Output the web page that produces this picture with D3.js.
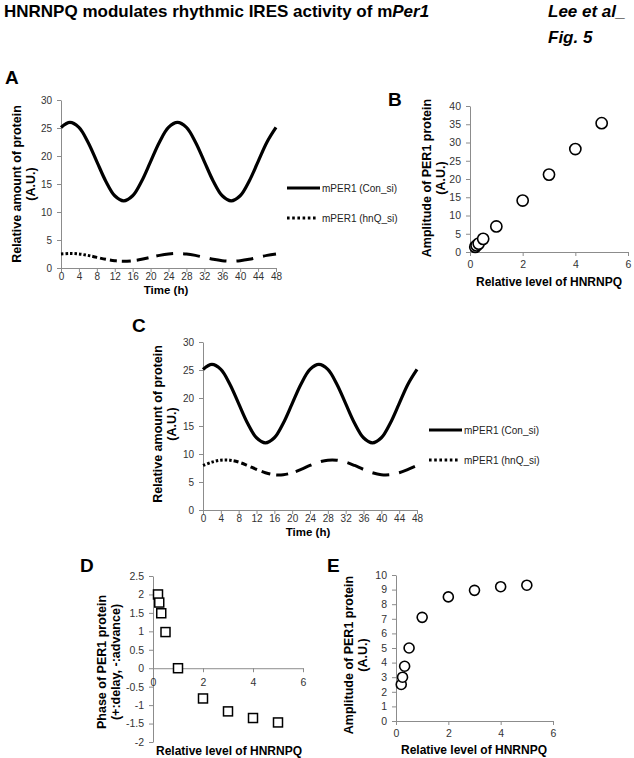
<!DOCTYPE html>
<html>
<head>
<meta charset="utf-8">
<script src="https://cdn.jsdelivr.net/npm/d3@7"></script>
<style>
  html, body { margin: 0; padding: 0; background: #fff; }
  svg { display: block; }
</style>
</head>
<body>
<div id="fig"></div>
<script>
// ---- data ----
const hours = [0, 2, 4, 6, 8, 10, 12, 14, 16, 18, 20, 22, 24, 26, 28, 30, 32, 34, 36, 38, 40, 42, 44, 46, 48];
const timeTicks = [0, 4, 8, 12, 16, 20, 24, 28, 32, 36, 40, 44, 48];
const proteinTicks = [0, 5, 10, 15, 20, 25, 30];

// mPER1 (Con_si), same curve in A and C
const conSi = [25.1, 26, 25.1, 22.5, 19, 15.5, 12.9, 12, 12.9, 15.5, 19, 22.5, 25.1,
               26, 25.1, 22.5, 19, 15.5, 12.9, 12, 12.9, 15.5, 19, 22.5, 25.1];
// mPER1 (hnQ_si), panel A
const hnqSiA = [2.5, 2.6, 2.5, 2.25, 1.9, 1.55, 1.3, 1.2, 1.3, 1.55, 1.9, 2.25, 2.5,
                2.6, 2.5, 2.25, 1.9, 1.55, 1.3, 1.2, 1.3, 1.55, 1.9, 2.25, 2.5];
// mPER1 (hnQ_si), panel C
const hnqSiC = [7.95, 8.55, 8.9, 8.9, 8.55, 7.95, 7.25, 6.65, 6.3, 6.3, 6.65, 7.25, 7.95,
                8.55, 8.9, 8.9, 8.55, 7.95, 7.25, 6.65, 6.3, 6.3, 6.65, 7.25, 7.95];

const legendNames = ['mPER1 (Con_si)', 'mPER1 (hnQ_si)'];

// panels B, D, E share the HNRNPQ levels
const hnrnpqLevel = [0.2, 0.25, 0.33, 0.5, 1, 2, 3, 4, 5];
const amplitudeB = [1.4, 1.8, 2.3, 3.6, 7, 14.1, 21.2, 28.2, 35.3];
const phaseD = [2, 1.78, 1.49, 0.98, 0, -0.82, -1.17, -1.35, -1.47];
const amplitudeE = [2.5, 3.0, 3.75, 5.0, 7.1, 8.5, 8.95, 9.2, 9.3];

const levelTicks = [0, 2, 4, 6];
const ampTicksB = [0, 5, 10, 15, 20, 25, 30, 35, 40];
const phaseTicks = [-2, -1.5, -1, -0.5, 0, 0.5, 1, 1.5, 2, 2.5];
const ampTicksE = [0, 1, 2, 3, 4, 5, 6, 7, 8, 9, 10];

// ---- drawing ----
const FONT = "'Liberation Sans', Arial, Helvetica, sans-serif";
const AXIS = '#8c8c8c';
const W = 634, H = 758;

const svg = d3.select('#fig').append('svg')
  .attr('width', W).attr('height', H)
  .attr('viewBox', `0 0 ${W} ${H}`)
  .style('font-family', FONT);

svg.append('rect').attr('width', W).attr('height', H).attr('fill', '#fff');

// title block
const title = svg.append('text')
  .attr('x', 4).attr('y', 17)
  .style('font-size', '17px').style('font-weight', 'bold');
title.append('tspan').text('HNRNPQ modulates rhythmic IRES activity of m');
title.append('tspan').style('font-style', 'italic').text('Per1');

svg.append('text').attr('x', 548).attr('y', 17)
  .style('font-size', '17px').style('font-weight', 'bold').style('font-style', 'italic')
  .text('Lee et al_');
svg.append('text').attr('x', 548).attr('y', 43)
  .style('font-size', '17px').style('font-weight', 'bold').style('font-style', 'italic')
  .text('Fig. 5');

function letter(t, x, y) {
  svg.append('text').attr('x', x).attr('y', y)
    .style('font-size', '19px').style('font-weight', 'bold')
    .text(t);
}

// one set of axes with titles; returns the scales
function frame(p) {
  const x = d3.scaleLinear().domain(p.xDomain).range([p.left, p.right]);
  const y = d3.scaleLinear().domain(p.yDomain).range([p.bottom, p.top]);
  const xAt = p.xAxisAt == null ? p.yDomain[0] : p.xAxisAt;

  const gy = svg.append('g')
    .attr('transform', `translate(${p.left},0)`)
    .call(d3.axisLeft(y).tickValues(p.yTicks).tickSize(4).tickSizeOuter(0)
      .tickPadding(5).tickFormat(d => String(d)));

  const gx = svg.append('g')
    .attr('transform', `translate(0,${y(xAt)})`)
    .call(d3.axisBottom(x).tickValues(p.xTicks).tickSize(4).tickSizeOuter(0)
      .tickPadding(p.padX).tickFormat(d => String(d)));

  [gx, gy].forEach(g => {
    g.attr('font-family', FONT).attr('font-size', p.tickFont || 10.5);
    g.select('.domain').attr('stroke', AXIS);
    g.selectAll('.tick line').attr('stroke', AXIS);
    g.selectAll('.tick text').attr('fill', '#333');
  });

  // x title
  svg.append('text')
    .attr('x', p.xTitleX).attr('y', p.xTitleY)
    .attr('text-anchor', 'middle')
    .style('font-size', p.xTitleSize || '12px').style('font-weight', 'bold')
    .text(p.xTitle);

  // y title, two rotated lines
  p.yTitle.forEach((t, i) => {
    svg.append('text')
      .attr('transform', `translate(${p.yTitleX + i * 14},${p.yTitleY}) rotate(-90)`)
      .attr('text-anchor', 'middle')
      .attr('dominant-baseline', 'central')
      .style('font-size', '12.5px').style('font-weight', 'bold')
      .text(t);
  });

  return { x, y };
}

// dotted start that stretches into long dashes, like the Excel line
function hnqDash() {
  const a = [];
  for (let i = 0; i < 7; i++) a.push(2.5, 2);
  a.push(5, 3, 6, 4, 7, 5, 9, 6, 12, 8);
  for (let i = 0; i < 12; i++) a.push(17, 10);
  return a.join(',');
}

function timePanel(p, hnq) {
  const { x, y } = frame(Object.assign({
    xDomain: [0, 48], yDomain: [0, 30],
    xTicks: timeTicks, yTicks: proteinTicks, padX: 1, tickFont: 10,
    xTitle: 'Time (h)', xTitleSize: '11.5px',
    yTitle: ['Relative amount of protein', '(A.U.)']
  }, p));

  const line = d3.line()
    .x((d, i) => x(hours[i]))
    .y(d => y(d))
    .curve(d3.curveCatmullRom);

  svg.append('path').datum(conSi)
    .attr('d', line).attr('fill', 'none')
    .attr('stroke', '#000').attr('stroke-width', 3.2);

  svg.append('path').datum(hnq)
    .attr('d', line).attr('fill', 'none')
    .attr('stroke', '#000').attr('stroke-width', 3)
    .attr('stroke-dasharray', hnqDash());

  // legend
  const lx = p.left + 226;
  const rows = [p.bottom - 80, p.bottom - 50];
  svg.append('line').attr('x1', lx).attr('x2', lx + 33)
    .attr('y1', rows[0]).attr('y2', rows[0])
    .attr('stroke', '#000').attr('stroke-width', 3.2);
  svg.append('line').attr('x1', lx).attr('x2', lx + 31)
    .attr('y1', rows[1]).attr('y2', rows[1])
    .attr('stroke', '#000').attr('stroke-width', 3)
    .attr('stroke-dasharray', '2.6,2.6');
  legendNames.forEach((n, i) => {
    svg.append('text')
      .attr('x', lx + 35).attr('y', rows[i] + 3.5)
      .style('font-size', '10px').style('fill', '#222')
      .text(n);
  });
}

// A
letter('A', 5, 84);
timePanel({ left: 61, right: 276, top: 100, bottom: 268,
  xTitleX: 166, xTitleY: 294, yTitleX: 17, yTitleY: 184 }, hnqSiA);

// C
letter('C', 132, 332);
timePanel({ left: 203, right: 417, top: 342, bottom: 510,
  xTitleX: 308, xTitleY: 536, yTitleX: 158, yTitleY: 424 }, hnqSiC);

// B
letter('B', 388, 106);
(function () {
  const { x, y } = frame({
    left: 470, right: 628, top: 106, bottom: 252,
    xDomain: [0, 6], yDomain: [0, 40],
    xTicks: levelTicks, yTicks: ampTicksB, padX: 5,
    xTitle: 'Relative level of HNRNPQ', xTitleX: 549, xTitleY: 286,
    yTitle: ['Amplitude of PER1 protein', '(A.U.)'], yTitleX: 427, yTitleY: 178
  });
  svg.append('g').selectAll('circle')
    .data(hnrnpqLevel)
    .enter().append('circle')
    .attr('cx', d => x(d))
    .attr('cy', (d, i) => y(amplitudeB[i]))
    .attr('r', 5.6)
    .attr('fill', '#fff').attr('stroke', '#000').attr('stroke-width', 1.6);
})();

// D
letter('D', 80, 572);
(function () {
  const { x, y } = frame({
    left: 153, right: 303, top: 576, bottom: 742,
    xDomain: [0, 6], yDomain: [-2, 2.5], xAxisAt: 0,
    xTicks: levelTicks, yTicks: phaseTicks, padX: 6.5,
    xTitle: 'Relative level of HNRNPQ', xTitleX: 229, xTitleY: 755,
    yTitle: ['Phase of PER1 protein', '(+:delay, -:advance)'], yTitleX: 102, yTitleY: 662
  });
  const s = 9;
  svg.append('g').selectAll('rect')
    .data(hnrnpqLevel)
    .enter().append('rect')
    .attr('x', d => x(d) - s / 2)
    .attr('y', (d, i) => y(phaseD[i]) - s / 2)
    .attr('width', s).attr('height', s)
    .attr('fill', '#fff').attr('stroke', '#000').attr('stroke-width', 1.5);
})();

// E
letter('E', 327, 572);
(function () {
  const { x, y } = frame({
    left: 396, right: 553, top: 575, bottom: 721,
    xDomain: [0, 6], yDomain: [0, 10],
    xTicks: levelTicks, yTicks: ampTicksE, padX: 5,
    xTitle: 'Relative level of HNRNPQ', xTitleX: 474, xTitleY: 754,
    yTitle: ['Amplitude of PER1 protein', '(A.U.)'], yTitleX: 349, yTitleY: 655
  });
  svg.append('g').selectAll('circle')
    .data(hnrnpqLevel)
    .enter().append('circle')
    .attr('cx', d => x(d))
    .attr('cy', (d, i) => y(amplitudeE[i]))
    .attr('r', 5)
    .attr('fill', '#fff').attr('stroke', '#000').attr('stroke-width', 1.6);
})();
</script>
</body>
</html>
